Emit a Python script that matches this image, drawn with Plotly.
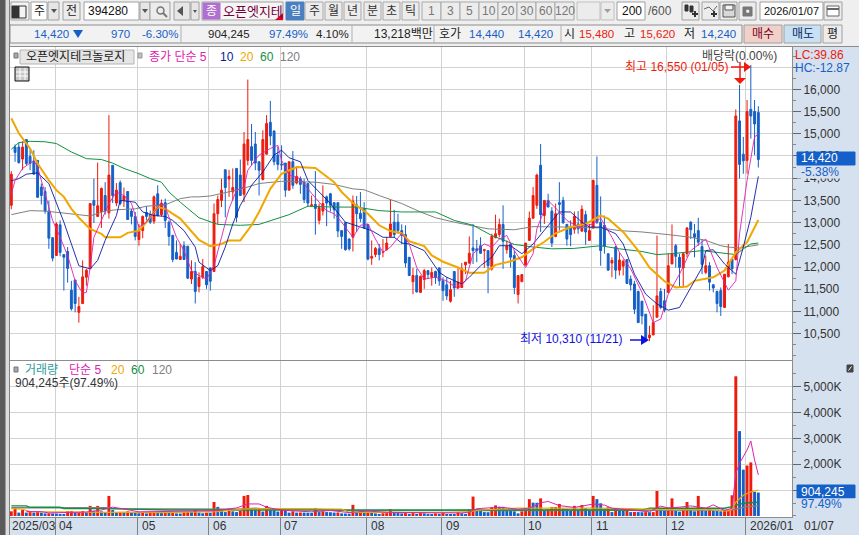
import plotly.graph_objects as go

W, H = 859, 535

# daily candles (won)
opens = [13390,14700,14700,14430,14870,14490,14380,14400,13800,13700,
         13260,12660,12260,12950,12280,12350,11480,11710,10980,11180,
         11770,11960,13500,13140,13250,13610,13220,14290,13440,13900,
         13500,13700,13260,13140,12620,12820,13230,13180,13030,13650,
         13180,13450,13010,12710,12330,12170,12480,12470,11730,11900,
         11560,11770,11900,11980,11900,13200,13500,14190,13980,13690,
         14220,14070,13640,14400,14710,14770,14370,13970,14540,15260,
         15060,14520,14310,14340,13730,14370,13890,13990,13910,13880,
         13380,13410,13050,13260,13580,13650,13450,13450,12820,13000,
         12630,12670,13400,13210,13310,12960,12200,12280,12410,12330,
         12390,12690,13010,13010,12820,12730,12220,11670,11810,11430,
         11720,11920,11770,11900,11980,11690,11600,11230,11900,11540,
         11540,12050,12090,12430,12410,12480,12370,12370,11960,12660,
         12730,12960,12390,12520,12260,11380,11670,12050,12600,13100,
         13390,14290,13160,13500,13260,12690,13450,13500,12960,12900,
         12850,12970,12810,13180,12600,12880,13840,13010,12940,12300,
         12090,12450,11930,12020,12170,11730,11620,11450,11230,10940,
         10410,10470,10870,11450,11240,11430,12070,12480,12220,11980,
         12300,13010,12750,12820,12460,11880,12030,11600,11450,11470,
         11090,11780,12180,12170,15290,14540,14400,15550,15500,15480]
highs = [14160,14760,14800,14830,14870,14670,14630,14400,13880,13800,
         13490,12670,13010,13050,12280,12450,11690,11710,11330,12150,
         11960,13430,13990,14350,13790,13910,15420,14290,13890,13950,
         13790,13700,13310,13240,12970,13160,13370,13270,13610,13840,
         13520,13540,13050,12730,12600,12520,12580,12470,12150,12110,
         11880,12180,11900,11990,13430,13610,13990,14190,14190,14220,
         14220,14420,15040,16220,15220,15040,14370,15080,15420,15740,
         15080,14710,14740,14340,14380,14610,14270,14040,13990,13880,
         13610,14160,13430,13840,13610,13670,13460,13450,12820,13010,
         12650,13610,13600,13690,13460,12970,12600,12450,12520,12630,
         12670,13520,13290,13200,12960,12940,12220,11980,11960,11810,
         11960,11920,11990,11920,11990,11770,11770,11690,11900,11990,
         12090,12110,12690,12970,12610,12670,12410,12370,12750,13180,
         13090,13390,12600,12520,12370,11810,11840,12540,13250,13800,
         14100,14770,13500,13650,13350,13430,13910,13580,12970,13050,
         13250,13260,13390,13270,12970,13970,14490,13590,13160,12310,
         12220,12480,12330,12170,12180,11810,11690,11470,11240,10940,
         10680,11140,12710,11530,11510,12300,12960,12520,12300,12330,
         12900,13030,12970,13110,12630,12260,12110,11620,11470,11540,
         11840,12520,12180,15550,16100,14930,15760,16550,15760,15620]
lows = [13300,14370,14330,14180,14290,14180,14090,13560,13410,13200,
        12410,12130,12260,12240,11470,11650,11020,10980,10750,11180,
        11580,11960,12990,13140,12880,13180,13090,13440,13370,13390,
        13350,13070,12960,12600,12480,12650,13050,12970,12970,13140,
        13140,12880,12480,12110,12180,12170,12170,11730,11620,11180,
        11430,11730,11510,11470,11900,12970,13350,13120,13580,13500,
        13010,13610,13460,14290,14290,14180,13610,13950,14540,14740,
        14290,14180,14180,13580,13730,13760,13860,13650,13440,13350,
        13370,12730,12960,13160,12920,13250,13090,12670,12410,12370,
        12370,12350,12790,13010,12860,12150,12050,12220,12150,12220,
        12370,12670,12660,12750,12520,11990,11810,11390,11430,11430,
        11510,11730,11580,11620,11580,11240,11260,11200,11330,11510,
        11540,11840,12070,12070,12110,12300,11980,11410,11920,12650,
        12670,11960,12300,11990,11390,11180,11670,12030,12600,13090,
        13310,12790,12970,13350,12450,12670,12820,12970,12480,12470,
        12750,12750,12790,12500,12600,12860,12970,12030,12300,11920,
        11770,11730,11810,11810,11630,11470,10940,10750,10710,10310,
        10330,10470,10870,11050,10980,11430,12070,11990,11540,11540,
        12220,12630,12220,12480,11840,11840,11470,11430,10980,10900,
        11090,11770,11840,12150,13990,14100,14100,14890,14520,14240]
closes = [14090,14580,14350,14700,14330,14330,14090,13570,13610,13260,
          12650,12200,12970,12330,12220,11970,11060,11180,11110,11780,
          11930,13430,13390,13380,13770,13270,14070,13610,13730,13430,
          13600,13070,13140,12690,12820,13140,13140,13010,13580,13160,
          13430,13050,12690,12170,12180,12240,12170,11750,11900,11450,
          11770,12010,11600,11680,13200,13520,13730,13790,14040,13790,
          13120,13610,14770,14870,14400,14340,14180,14870,15230,14950,
          14370,14310,14300,13730,14370,13840,14040,13860,13520,13440,
          13400,13320,13340,13430,13440,13390,13290,12810,12690,12390,
          12410,13480,13200,13090,12880,12180,12240,12420,12280,12340,
          12540,12970,12730,12820,12710,12090,11810,11810,11440,11790,
          11920,11830,11880,11770,11690,11470,11350,11490,11530,11660,
          11960,12110,12310,12370,12370,12310,12390,12030,12690,12750,
          12960,12580,12470,12220,11540,11810,11830,12540,13100,13610,
          14070,13180,13500,13350,12540,13200,13410,13000,12630,12730,
          13140,12860,13300,12790,12820,13950,13010,12370,12470,11930,
          12150,11930,12160,12130,11630,11600,11050,10750,10900,10390,
          10470,10750,11350,11090,11030,12030,12300,12240,11990,12300,
          12880,12840,12670,12560,12060,12030,11660,11530,11180,11110,
          11840,12110,11960,15400,14310,14390,15500,15400,15220,14420]

# price moving averages, read at turning points: candle number, won
ma5_x = [0,1,3,6,7,9,11,13,15,17,19,20,21,22,24,26,28,30,32,34,36,38,40,41,44,46,48,50,52,54,56,58,60,62,63,66,69,71,72,74,77,79,82,84,86,88,91,93,95,97,99,101,104,106,108,110,113,116,119,121,123,126,128,130,132,134,137,139,140,143,146,148,151,155,157,160,162,165,168,171,173,175,178,181,185,188,191,193,194,196,198,199]
ma5 = [13650,13950,14220,14400,14250,13650,13050,12670,12260,11690,11410,11430,11990,12670,13050,13430,13690,13610,13430,12900,13010,13240,13460,13350,12670,12370,11920,11810,11730,12030,12670,13310,13730,13800,14180,14520,14670,14740,14400,14070,13990,13760,13460,13270,13200,13010,12670,12940,12970,12630,12330,12450,12760,12520,11990,11730,11770,11690,11510,11690,12300,12520,12450,12630,12710,12370,11990,12300,12860,13500,13240,13050,12900,12970,13100,12670,12330,11960,11430,10750,10830,11390,11840,12370,12630,11990,11480,11690,12750,13950,14930,14990]
ma10_x = [0,2,4,7,10,12,14,16,18,21,23,25,28,29,33,35,38,41,43,46,49,50,53,55,57,59,61,64,67,70,72,74,77,79,82,85,89,93,96,99,102,104,106,110,114,116,120,122,125,128,130,133,136,139,142,146,149,152,154,157,161,163,166,169,172,175,178,181,184,185,187,190,193,195,197,199]
ma10 = [13940,13990,14090,14120,13880,13460,13010,12520,12030,11960,12150,12600,13160,13500,13460,13240,13160,13140,13050,12820,12450,12110,11920,12030,12450,12970,13390,13840,14140,14520,14630,14460,14370,13950,13690,13430,13010,12900,12820,12670,12670,12540,12520,12370,11880,11770,11620,11770,12030,12220,12480,12480,12300,12520,12820,13240,13240,13010,12900,12900,12750,12520,11840,11390,11170,11030,11090,11540,11990,12370,12390,12070,11840,12450,13120,14040]
ma20_x = [0,2,5,7,10,12,14,16,18,21,24,25,29,31,34,36,39,41,45,48,50,53,56,58,61,64,66,69,72,76,81,86,88,91,95,98,101,104,106,110,112,115,119,122,126,129,133,136,139,142,145,149,153,157,159,163,167,170,174,177,180,182,187,190,193,196,199]
ma20 = [15350,15010,14670,14330,13950,13730,13580,13310,13110,12860,12750,12670,12670,12770,12820,13010,13350,13310,13090,12790,12610,12470,12520,12600,12600,12940,13240,13760,14100,14250,14230,13910,13690,13440,13200,12940,12810,12760,12580,12470,12260,12120,11990,11870,11870,12050,12130,12220,12410,12570,12760,12900,12970,13160,13090,12790,12370,11990,11680,11540,11560,11690,11770,11920,12330,12560,13060]
ma60_x = [0,2,5,9,12,16,20,24,27,30,34,37,40,42,45,48,50,55,61,66,71,74,79,86,92,98,104,113,118,123,128,134,139,144,150,157,162,168,172,177,184,190,193,195,197,199]
ma60 = [14650,14800,14830,14820,14780,14590,14440,14420,14340,14220,14100,13990,13910,13690,13460,13240,13110,12960,12940,12960,13090,13180,13370,13350,13350,13270,13240,13240,13050,12940,12710,12510,12450,12410,12420,12480,12410,12350,12280,12310,12370,12300,12280,12410,12520,12540]
ma120_x = [0,2,5,9,14,18,21,25,28,33,36,41,45,48,50,53,56,61,66,72,81,86,91,94,98,104,109,113,118,123,127,134,139,148,157,162,168,175,181,185,189,191,194,199]
ma120 = [13180,13210,13270,13260,13220,13180,13150,13260,13290,13310,13370,13400,13540,13580,13580,13600,13650,13750,13880,13930,13910,13860,13760,13740,13610,13430,13240,13110,13010,12920,12860,12840,12910,12900,12880,12820,12790,12730,12670,12600,12480,12450,12430,12500]

# volume, thousand shares
volumes = [180,300,130,230,130,150,130,150,130,100,
           105,100,95,80,75,190,195,130,135,190,
           130,390,200,390,180,130,775,230,130,150,
           145,180,150,130,105,130,100,130,150,148,
           130,180,130,150,100,95,150,155,150,230,
           130,105,130,125,540,350,230,150,260,180,
           150,200,775,810,300,280,290,170,390,230,
           225,170,230,225,130,180,130,135,130,125,
           120,310,150,180,150,145,130,135,100,95,
           90,430,130,180,150,180,130,100,80,105,
           110,260,130,125,100,130,80,130,80,130,
           105,80,75,100,80,150,80,75,70,150,
           105,80,260,750,260,230,150,145,340,410,
           360,355,200,195,180,100,180,230,650,515,
           510,680,200,260,340,345,465,280,275,200,
           390,230,425,300,200,775,650,490,260,340,
           150,280,200,195,200,150,155,150,145,150,
           145,150,965,260,200,230,680,200,170,260,
           540,230,180,775,230,200,260,200,190,180,
           185,200,800,5400,3280,1790,1950,2070,930,904.245]
vma5_x = [4,8,10,20,24,27,30,34,54,60,63,66,68,70,72,80,85,90,95,100,105,113,120,122,124,127,131,135,138,141,143,146,150,155,158,160,165,170,173,175,178,181,185,187,190,192,193,194,196,197,198,199]
vma5 = [170,165,120,150,230,340,270,160,200,310,465,465,340,290,220,160,210,130,190,140,130,120,115,150,280,310,330,260,300,510,560,400,330,460,420,300,220,160,380,310,340,390,300,430,210,300,1650,2040,2550,2900,2170,1590]
vma20_x = [0,3,5,20,26,30,40,55,62,70,88,90,96,105,115,122,125,135,145,155,165,175,185,191,192,193,195,197,199]
vma20 = [280,260,170,130,140,150,130,170,270,280,270,140,150,130,125,170,230,300,310,300,280,240,250,200,260,540,800,930,1000]
vma60_x = [0,4,5,13,14,26,42,60,80,100,120,140,150,168,170,190,192,194,196,199]
vma60 = [390,390,335,335,285,285,230,225,225,230,230,230,230,230,300,300,360,460,500,530]
vma120_x = [0,26,27,41,42,60,65,68,80,90,100,140,170,192,196,199]
vma120 = [320,320,285,285,260,260,300,260,260,205,205,205,205,230,360,390]

# axis labels
month_first_candle = [12,34,53,72,95,115,137,155,175,196]
month_labels = ["04","05","06","07","08","09","10","11","12","2026/01"]
price_ticks = [10500,11000,11500,12000,12500,13000,13500,14000,14500,15000,15500,16000,16500]
vol_ticks = [1000,2000,3000,4000,5000]

RED = "#ee1b0b"
BLUE = "#1460c8"
MAGENTA = "#e020b0"
NAVY = "#0a1aa0"
ORANGE = "#f0a800"
GREEN = "#109040"
GREY = "#808080"
PANEL = "#d6e1ef"
BAR = "#efefef"
GRID = "#d2d2d2"
FONT = "Liberation Sans, Noto Sans CJK KR"

x = list(range(len(closes)))
vol_colors = [RED if i == 0 or volumes[i] >= volumes[i - 1] else BLUE for i in x]
grid_x = [i - 0.35 for i in month_first_candle]

fig = go.Figure()
fig.add_trace(go.Candlestick(x=x, open=opens, high=highs, low=lows, close=closes,
                             increasing=dict(line=dict(color=RED, width=1), fillcolor=RED),
                             decreasing=dict(line=dict(color=BLUE, width=1), fillcolor=BLUE),
                             xaxis="x", yaxis="y", showlegend=False, hoverinfo="skip"))
for xs, ys, c, lw in [(ma120_x, ma120, GREY, 1), (ma60_x, ma60, GREEN, 1), (ma20_x, ma20, ORANGE, 2),
                      (ma10_x, ma10, NAVY, 0.9), (ma5_x, ma5, MAGENTA, 0.9)]:
    fig.add_trace(go.Scatter(x=xs, y=ys, mode="lines", line=dict(color=c, width=lw),
                             xaxis="x", yaxis="y", showlegend=False, hoverinfo="skip"))

fig.add_trace(go.Bar(x=x, y=volumes, marker=dict(color=vol_colors, line=dict(width=0)), width=0.78,
                     xaxis="x2", yaxis="y2", showlegend=False, hoverinfo="skip"))
for xs, ys, c, lw in [(vma120_x, vma120, GREY, 1.4), (vma60_x, vma60, GREEN, 1.4),
                      (vma20_x, vma20, ORANGE, 1.2), (vma5_x, vma5, MAGENTA, 1)]:
    fig.add_trace(go.Scatter(x=xs, y=ys, mode="lines", line=dict(color=c, width=lw),
                             xaxis="x2", yaxis="y2", showlegend=False, hoverinfo="skip"))

shapes = []
notes = []


def rect(x0, y0, x1, y1, fill, line=None):
    shapes.append(dict(type="rect", xref="paper", yref="paper", layer="above",
                       x0=x0 / W, x1=x1 / W, y0=1 - y0 / H, y1=1 - y1 / H,
                       fillcolor=fill, line=dict(color=line or fill, width=1)))


def seg(x0, y0, x1, y1, color, width=1):
    shapes.append(dict(type="line", xref="paper", yref="paper", layer="above",
                       x0=x0 / W, x1=x1 / W, y0=1 - y0 / H, y1=1 - y1 / H,
                       line=dict(color=color, width=width)))


def tri(points, color):
    path = "M " + " L ".join(f"{px / W:.5f} {1 - py / H:.5f}" for px, py in points) + " Z"
    shapes.append(dict(type="path", xref="paper", yref="paper", layer="above", path=path,
                       fillcolor=color, line=dict(color=color, width=0)))


def text(px, py, s, color="#222222", size=12, anchor="left"):
    notes.append(dict(x=px / W, y=1 - py / H, xref="paper", yref="paper", text=s, showarrow=False,
                      xanchor=anchor, yanchor="middle", borderpad=0,
                      font=dict(color=color, size=size, family=FONT)))


# left edge and the toolbar background
rect(0, 0, W, 46, BAR)
rect(0, 0, 6, H, "#5a5a5a")
rect(6, 0, 9, H, "#dcdcdc")
seg(9.5, 0, 9.5, H, GREY)
seg(10, 46.5, W, 46.5, "#8c8c8c")

# first toolbar row
rect(11, 2, 29, 20, "#f4f4f4", "#a0a0a0")
rect(12, 6, 19, 18, "#333333")
rect(19, 6, 26, 18, "#f4f4f4", "#333333")
rect(31, 2, 47, 20, "white", "#a0a0a0")
text(39, 11, "주", anchor="center")
rect(48, 2, 59, 20, "#e6e6e6", "#a0a0a0")
tri([(51, 9), (57, 9), (54, 13)], "#555555")
rect(63, 2, 80, 20, "#ececec", "#a0a0a0")
text(71.5, 11, "전", anchor="center")
rect(84, 2, 139, 20, "white", "#a0a0a0")
text(87, 11, "394280", "#111111")
rect(140, 2, 150, 20, "#e6e6e6", "#a0a0a0")
tri([(142, 9), (148, 9), (145, 13)], "#555555")
rect(150, 2, 170, 20, "#ececec", "#a0a0a0")
shapes.append(dict(type="circle", xref="paper", yref="paper", layer="above", x0=157 / W, x1=164 / W,
                   y0=1 - 14 / H, y1=1 - 7 / H, line=dict(color="#777777", width=1.5)))
seg(163, 13, 167, 17, "#777777", 2)
rect(174, 2, 190, 20, "#e6e6e6", "#a0a0a0")
tri([(177, 11), (183, 6), (183, 16)], "#555555")
rect(191, 2, 199, 20, "#e6e6e6", "#a0a0a0")
tri([(193, 10), (197, 10), (195, 13)], "#555555")
rect(202, 2, 283, 20, "#f6f6f6", "#a0a0a0")
rect(203, 3, 220, 19, "#b070d0")
text(211.5, 11, "종", "white", anchor="center")
text(222, 11, "오픈엣지테", "#7a0040", 13)
tri([(283, 13), (283, 20), (275, 20)], "#e00020")
rect(286, 2, 304, 20, "#4a80c0")
text(295, 11, "일", "white", anchor="center")
for x0, x1, s in [(305, 323, "주"), (325, 342, "월"), (344, 361, "년"), (364, 381, "분"), (383, 400, "초"),
                  (402, 419, "틱"), (422, 441, "1"), (441, 460, "3"), (460, 479, "5"), (479, 498, "10"),
                  (498, 517, "20"), (517, 536, "30"), (536, 555, "60"), (555, 574, "120")]:
    rect(x0, 2, x1, 20, "#ececec", "#a8a8a8")
    text((x0 + x1) / 2, 11, s, "#333333" if x0 < 420 else "#777777", anchor="center")
rect(577, 2, 600, 20, "#ececec", "#c0c0c0")
rect(601, 2, 614, 20, "#ececec", "#c0c0c0")
tri([(604, 9), (611, 9), (607.5, 13)], "#a0a0a0")
rect(617, 2, 645, 20, "white", "#a0a0a0")
text(643, 11, "200", "#111111", anchor="right")
text(647, 11, "/600", "#555555")
for x0 in [682, 702, 720, 739]:
    rect(x0, 2, x0 + 17, 20, "#ececec", "#a0a0a0")
# candle, line, disk and gear buttons
rect(685, 5, 688, 11, "#333333")
rect(690, 6, 693, 12, "#333333")
seg(692, 14, 698, 14, "#333333", 2)
seg(695, 11, 695, 17, "#333333", 2)
seg(704, 9, 709, 7, "#666666")
seg(709, 7, 713, 11, "#666666")
seg(713, 11, 717, 6, "#666666")
seg(711, 14, 717, 14, "#333333", 2)
seg(714, 11, 714, 17, "#333333", 2)
rect(723, 5, 735, 17, "#d8d8d8", "#555555")
rect(725, 5, 733, 10, "#f4f4f4", "#555555")
rect(743, 7, 752, 16, "#777777")
shapes.append(dict(type="circle", xref="paper", yref="paper", layer="above", x0=746 / W, x1=749.5 / W,
                   y0=1 - 13 / H, y1=1 - 9.5 / H, fillcolor="#ececec", line=dict(color="#ececec", width=0)))
rect(760, 2, 823, 20, "white", "#a0a0a0")
text(763, 11, "2026/01/07", "#111111", 11)
rect(824, 2, 842, 20, "#ececec", "#a0a0a0")
rect(827, 6, 839, 16, "white", "#666666")
seg(827, 9, 839, 9, "#666666", 2)

# second toolbar row
rect(10, 25, 742, 43, "#f2f2f2", "#8c8c8c")
seg(181, 25, 181, 43, "#b0b0b0")
seg(352, 25, 352, 43, "#b0b0b0")
text(70, 34, "14,420", BLUE, 11.5, anchor="right")
tri([(73, 30), (83, 30), (78, 38)], BLUE)
text(131, 34, "970", BLUE, 11.5, anchor="right")
text(179, 34, "-6.30%", BLUE, 11.5, anchor="right")
text(251, 34, "904,245", "#222222", 11.5, anchor="right")
text(309, 34, "97.49%", BLUE, 11.5, anchor="right")
text(350, 34, "4.10%", "#222222", 11.5, anchor="right")
text(373, 34, "13,218백만")
seg(434, 25, 434, 43, "#b0b0b0")
text(438, 34, "호가")
text(505, 34, "14,440", BLUE, 11.5, anchor="right")
text(554, 34, "14,420", BLUE, 11.5, anchor="right")
seg(561, 25, 561, 43, "#b0b0b0")
text(563, 34, "시")
text(615, 34, "15,480", RED, 11.5, anchor="right")
text(623, 34, "고")
text(676, 34, "15,620", RED, 11.5, anchor="right")
text(683, 34, "저")
text(737, 34, "14,240", BLUE, 11.5, anchor="right")
rect(744, 25, 782, 43, "#f0d0c8", "#a0a0a0")
text(763, 34, "매수", "#7a0020", anchor="center")
rect(784, 25, 821, 43, "#c8e0f4", "#a0a0a0")
text(802.5, 34, "매도", "#0a2a60", anchor="center")
rect(823, 25, 842, 43, "#ececec", "#a0a0a0")
text(832.5, 34, "평", "#222222", anchor="center")

# price panel legend
rect(14, 53, 18, 58, "#a8a8a8", "#777777")
rect(20, 50, 134, 64, "#e6e6e6", "#b4b4b4")
text(25, 57, "오픈엣지테크놀로지", "#222222")
rect(138, 53, 142, 58, "#c0c0c0", "#999999")
text(148, 57, "종가 단순 5", MAGENTA)
text(219, 57, "10", NAVY)
text(239, 57, "20", ORANGE)
text(259, 57, "60", GREEN)
text(279, 57, "120", GREY)
rect(15, 67, 29, 81, "#c8c8c8", "#111111")
seg(20, 68, 20, 80, "#ffffff")
seg(25, 68, 25, 80, "#ffffff")
seg(16, 72, 28, 72, "#ffffff")
seg(16, 76, 28, 76, "#ffffff")

# notes on the price panel
text(778, 56, "배당락(0.00%)", "#444444", anchor="right")
text(729, 67, "최고 16,550 (01/05)", RED, anchor="right")
seg(731, 67, 745, 67, RED, 1.5)
tri([(744, 62), (751, 67), (744, 72)], RED)
seg(740, 62, 740, 78, RED, 1.5)
tri([(734, 78), (746, 78), (740, 84)], RED)
text(624, 339, "최저 10,310 (11/21)", "#1010e0", anchor="right")
seg(630, 340, 642, 340, "#1010e0", 1.5)
tri([(641, 335), (649, 340), (641, 345)], "#1010e0")

# right axis flags
text(794, 55, "LC:39.86", RED)
text(794, 68, "HC:-12.87", BLUE)
rect(797, 152, 855, 165, BLUE)
text(800, 158, "14,420", "white")
rect(797, 167, 855, 178, PANEL)
text(800, 172, "-5.38%", BLUE)
rect(797, 485, 855, 498, BLUE)
text(800, 491.5, "904,245", "white")
rect(797, 499, 855, 510, PANEL)
text(800, 504, "97.49%", BLUE)
rect(847, 365, 853, 372, "#444444")
seg(848.5, 370.5, 851.5, 366.5, "#ffffff")

# volume panel legend
rect(14, 367, 18, 372, "#a8a8a8", "#777777")
text(24, 370, "거래량", "#2f9a9a")
text(68, 370, "단순 5", MAGENTA)
text(110, 370, "20", ORANGE)
text(130, 370, "60", GREEN)
text(151, 370, "120", GREY)
text(14, 383, "904,245주(97.49%)", "#333333")

# date labels sit to the right of their grid line
text(11, 526, "2025/03", "#333333")
for pos, s in zip(grid_x, month_labels):
    notes.append(dict(x=pos, y=1 - 526 / H, xref="x2", yref="paper", text=s, showarrow=False,
                      xanchor="left", yanchor="middle", xshift=2, font=dict(color="#333333", size=12, family=FONT)))
text(803, 526, "01/07", "#333333")

x_style = dict(range=[-0.35, 207.97], domain=[10 / W, 792 / W], tickmode="array", tickvals=grid_x,
               showgrid=True, gridcolor=GRID, gridwidth=1, zeroline=False,
               showline=True, linecolor="#8c8c8c", mirror=True)
y_style = dict(side="right", showgrid=True, gridcolor=GRID, gridwidth=1, zeroline=False, showline=True,
               linecolor="#8c8c8c", mirror=True, ticks="outside", ticklen=8, tickcolor="#666666",
               tickfont=dict(color="#333333", size=12, family=FONT))

fig.update_layout(
    width=W, height=H, margin=dict(l=0, r=0, t=0, b=0), autosize=False,
    paper_bgcolor=PANEL, plot_bgcolor="white", boxgap=0.28, hovermode=False,
    xaxis=dict(x_style, anchor="y", showticklabels=False, ticks="", rangeslider=dict(visible=False)),
    xaxis2=dict(x_style, anchor="y2", matches="x", showticklabels=False, ticks="outside", ticklen=18,
                tickcolor="#808080"),
    yaxis=dict(y_style, domain=[1 - 360 / H, 1 - 47 / H], anchor="x", range=[9908, 16953],
               tickmode="array", tickvals=price_ticks,
               ticktext=[f"{v:,}" if v < 16500 else "" for v in price_ticks],
               minor=dict(dtick=250, tick0=10000, ticks="outside", ticklen=3, tickcolor="#888888", showgrid=False)),
    yaxis2=dict(y_style, domain=[1 - 517 / H, 1 - 361 / H], anchor="x2", range=[-40, 5991],
                tickmode="array", tickvals=vol_ticks, ticktext=[f"{v:,}K" for v in vol_ticks],
                minor=dict(dtick=500, tick0=0, ticks="outside", ticklen=3, tickcolor="#888888", showgrid=False)),
    shapes=shapes, annotations=notes,
)

fig.write_html("out.html", config=dict(displayModeBar=False),
               post_script="document.body.style.margin='0';document.body.style.overflow='hidden';")
